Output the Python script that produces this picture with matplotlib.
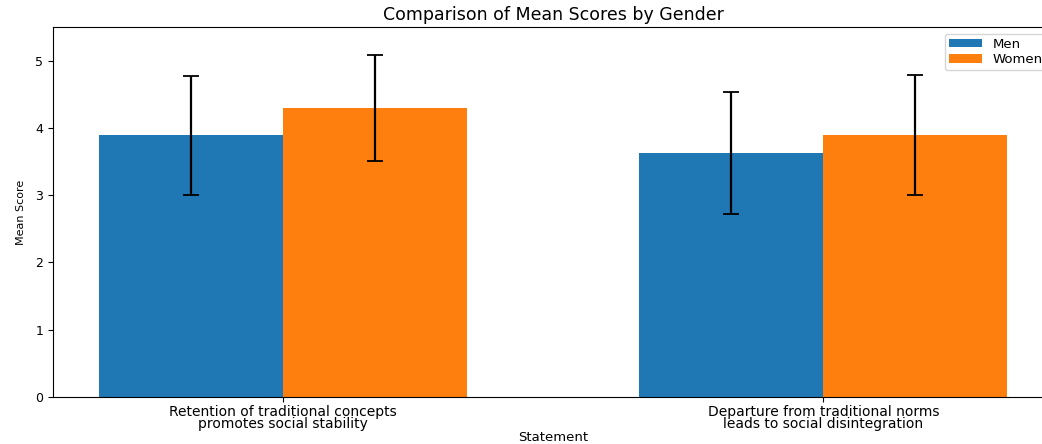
import matplotlib
matplotlib.use("Agg")
import matplotlib.pyplot as plt
import numpy as np

statements = [
    "Retention of traditional concepts\npromotes social stability",
    "Departure from traditional norms\nleads to social disintegration",
]
men_means = [3.89, 3.63]
men_sd = [0.88, 0.91]
women_means = [4.30, 3.89]
women_sd = [0.79, 0.89]

fig = plt.figure(figsize=(10.42, 4.44), dpi=100)
# axes run past the right edge of the picture, as in the cropped original
ax = fig.add_axes([53 / 1042, (444 - 397) / 444, 1000 / 1042, 370 / 444])

x = np.arange(len(statements))
width = 0.34
err_style = dict(elinewidth=1.6, capthick=1.3)
ax.bar(x - width / 2, men_means, width, yerr=men_sd, capsize=6,
       color="#1f77b4", label="Men", error_kw=err_style)
ax.bar(x + width / 2, women_means, width, yerr=women_sd, capsize=6,
       color="#ff7f0e", label="Women", error_kw=err_style)

ax.set_ylim(0, 5.5)
ax.set_xlim(-0.425, 1.425)
ax.set_xticks(x)
ax.set_xticklabels(statements, fontsize=10, linespacing=0.82)
ax.tick_params(axis="x", pad=2)
ax.tick_params(axis="y", labelsize=9)
ax.set_xlabel("Statement", fontsize=9.5, labelpad=0)
ax.set_ylabel("Mean Score", fontsize=8, labelpad=7)
ax.set_title("Comparison of Mean Scores by Gender", fontsize=12.5, pad=5)
ax.legend(loc="upper right", fontsize=9.5, labelspacing=0.2, handlelength=2.5,
          handleheight=0.6, borderpad=0.3)

fig.savefig("out.png", dpi=100)
